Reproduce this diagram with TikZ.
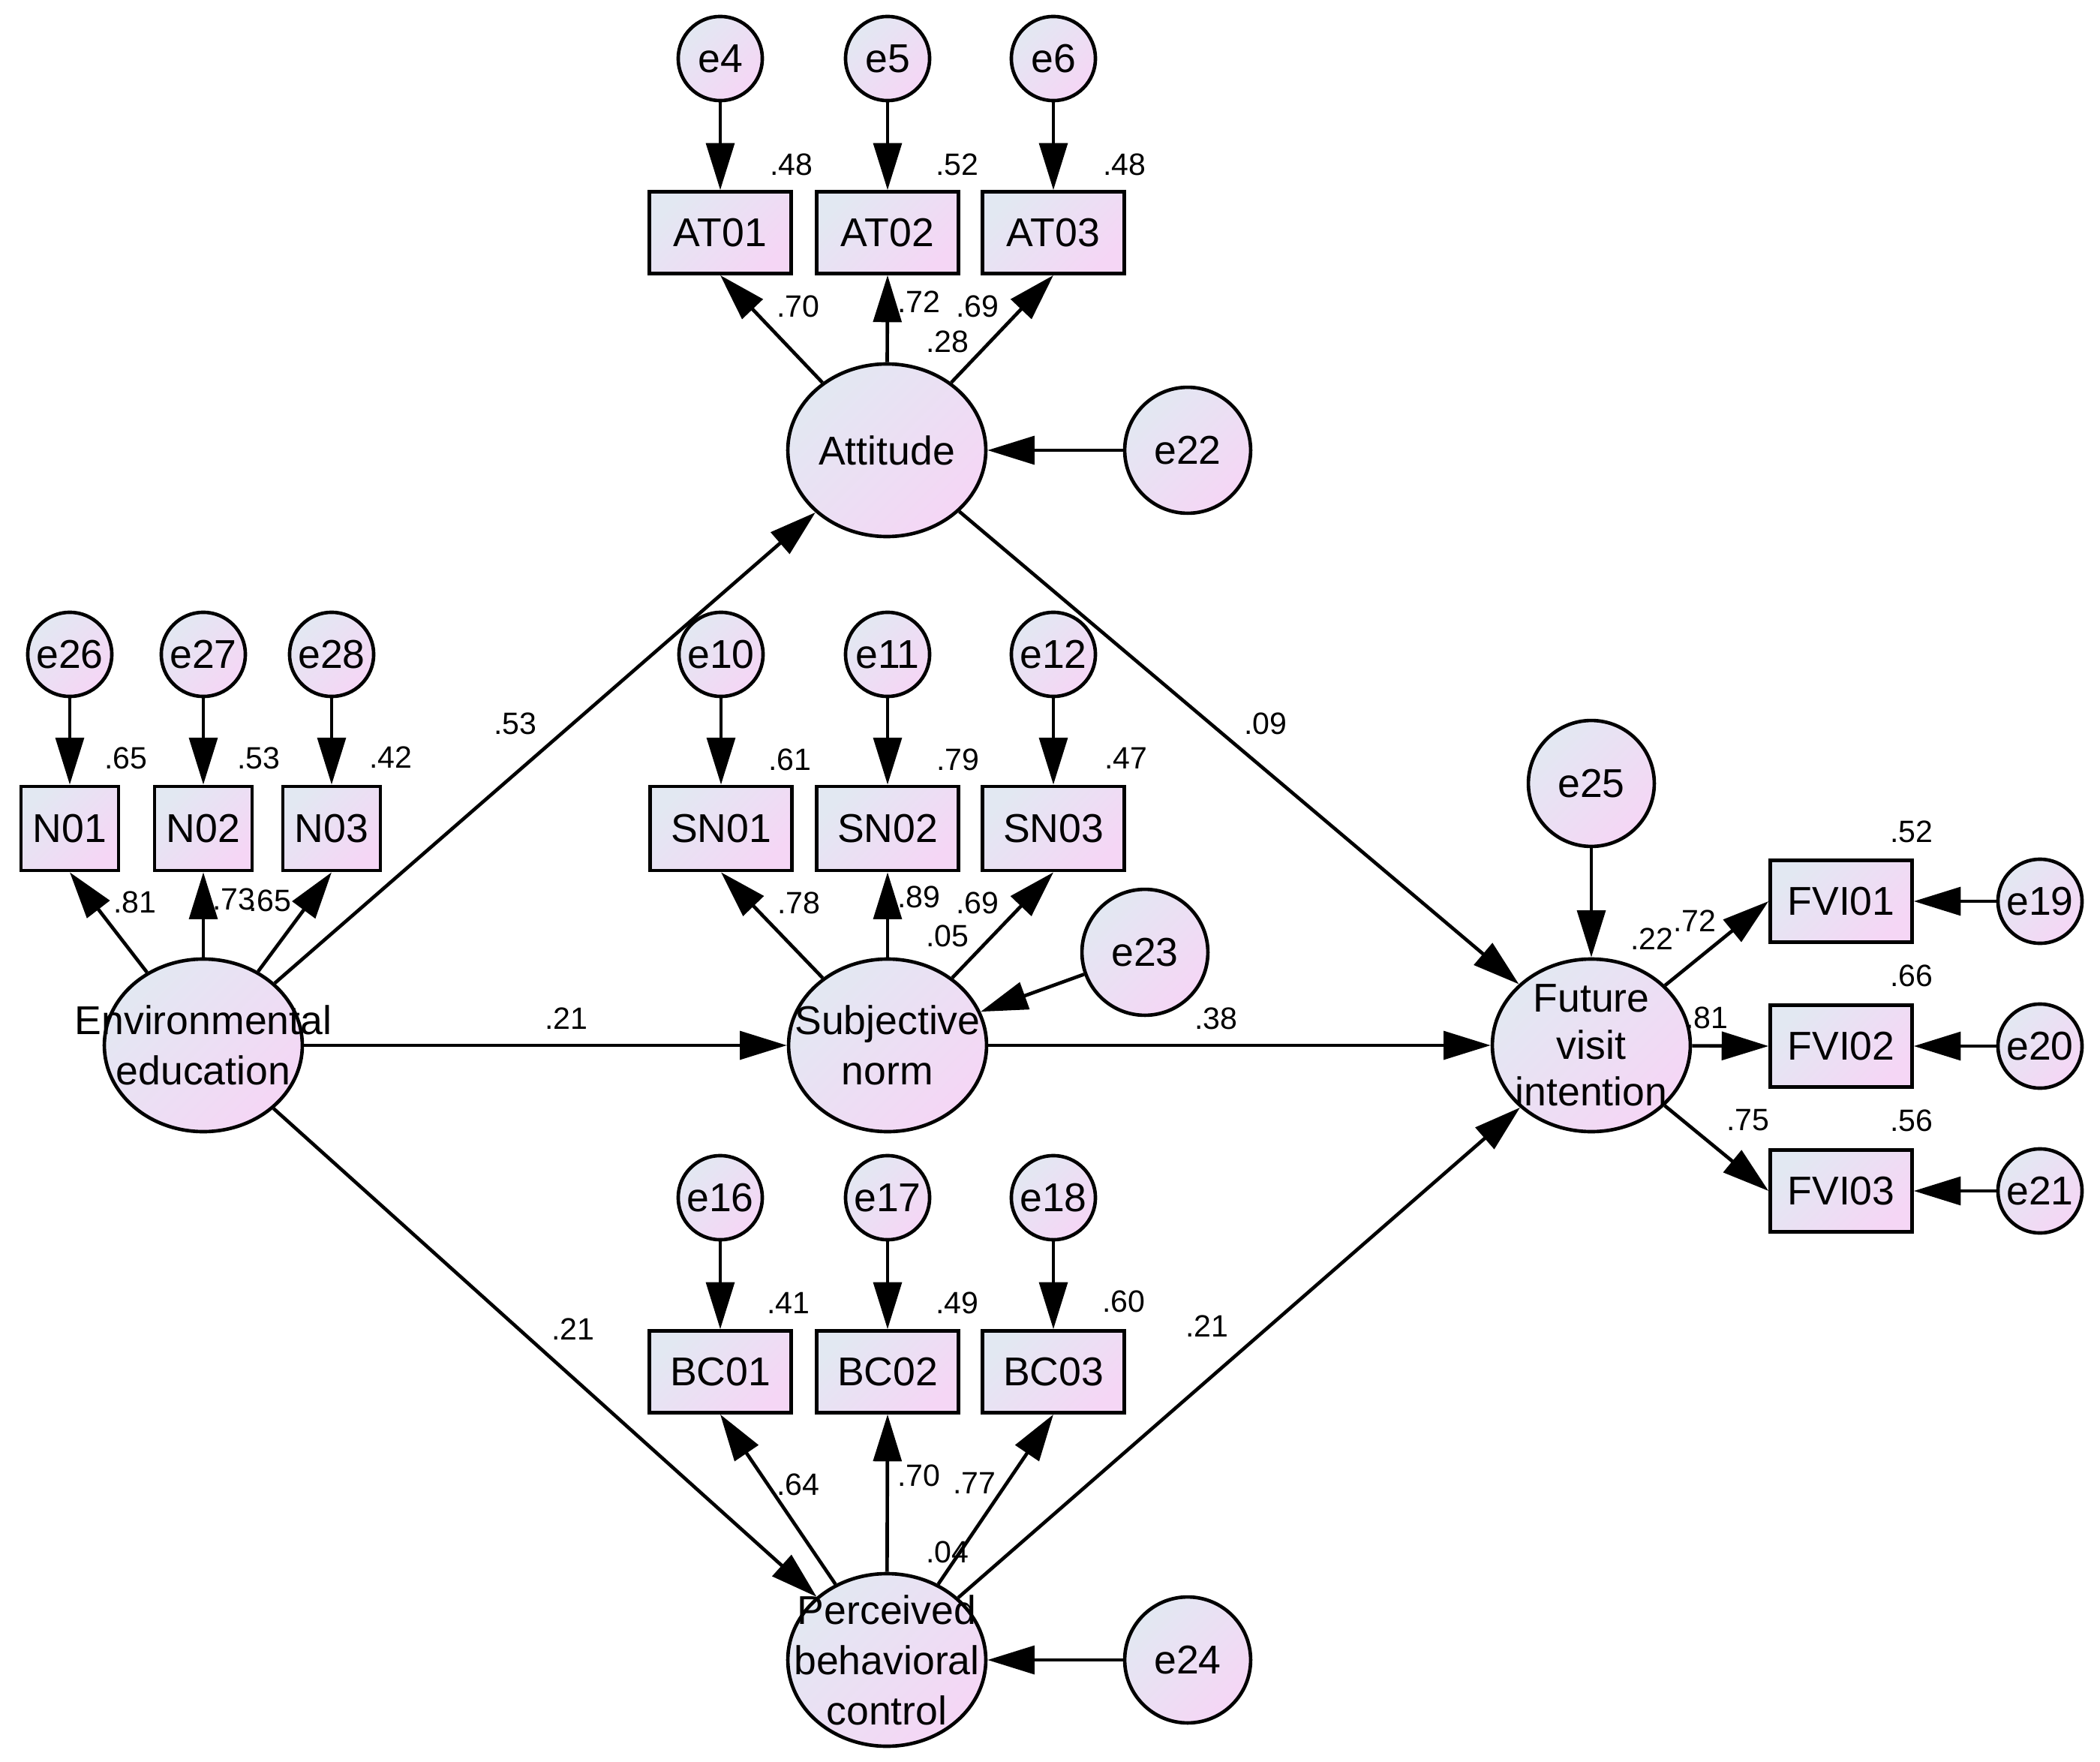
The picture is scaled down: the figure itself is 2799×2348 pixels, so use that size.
\documentclass[tikz,border=0pt]{standalone}
\usepackage{fontspec}
\setmainfont{Liberation Sans}
\usetikzlibrary{arrows.meta,shapes.geometric}
\definecolor{gL}{RGB}{226,232,242}
\definecolor{gR}{RGB}{245,214,245}
\begin{document}
\begin{tikzpicture}[x=0.28pt,y=-0.28pt,
  every node/.style={font=\fontsize{15}{18}\selectfont},
  shd/.style={left color=gL,right color=gR,shading angle=45,draw=black,line width=1.3pt},
  errs/.style={shd,circle,minimum size=31.4pt,inner sep=0pt},
  errb/.style={shd,circle,minimum size=47pt,inner sep=0pt},
  obs/.style={shd,rectangle,minimum width=52.9pt,minimum height=30.5pt,inner sep=0pt},
  obsn/.style={obs,minimum width=36.4pt,minimum height=31.4pt},
  lat/.style={shd,ellipse,minimum width=73.9pt,minimum height=64.4pt,inner sep=0pt},
  arr/.style={line width=1.3pt,-{Triangle[length=17.5pt,width=10.5pt]}},
  lbl/.style={font=\fontsize{11.5}{13}\selectfont,inner sep=0pt},
  ltxt/.style={align=center,font=\fontsize{15}{18.8}\selectfont,inner sep=0pt}]
\useasboundingbox (0,0) rectangle (2799,2348);

% ---------- latent variables ----------
\node[lat] (att) at (1182,600) {};
\node[lat] (env) at (271,1393) {};
\node[lat] (sn)  at (1183,1393) {};
\node[lat] (pbc) at (1182,2212) {};
\node[lat] (fvi) at (2121,1393) {};

% ---------- attitude block ----------
\node[errs] (e4) at (960,78) {e4};
\node[errs] (e5) at (1183,78) {e5};
\node[errs] (e6) at (1404,78) {e6};
\node[obs] (at1) at (960,310) {AT01};
\node[obs] (at2) at (1183,310) {AT02};
\node[obs] (at3) at (1404,310) {AT03};
\node[errb] (e22) at (1583,600) {e22};

% ---------- environmental education block ----------
\node[errs] (e26) at (93,872) {e26};
\node[errs] (e27) at (271,872) {e27};
\node[errs] (e28) at (442,872) {e28};
\node[obsn] (n1) at (93,1104) {N01};
\node[obsn] (n2) at (271,1104) {N02};
\node[obsn] (n3) at (442,1104) {N03};

% ---------- subjective norm block ----------
\node[errs] (e10) at (961,872) {e10};
\node[errs] (e11) at (1183,872) {e11};
\node[errs] (e12) at (1404,872) {e12};
\node[obs,minimum height=31.4pt] (sn1) at (961,1104) {SN01};
\node[obs,minimum height=31.4pt] (sn2) at (1183,1104) {SN02};
\node[obs,minimum height=31.4pt] (sn3) at (1404,1104) {SN03};
\node[errb] (e23) at (1526,1269) {e23};

% ---------- PBC block ----------
\node[errs] (e16) at (960,1596) {e16};
\node[errs] (e17) at (1183,1596) {e17};
\node[errs] (e18) at (1404,1596) {e18};
\node[obs] (bc1) at (960,1828) {BC01};
\node[obs] (bc2) at (1183,1828) {BC02};
\node[obs] (bc3) at (1404,1828) {BC03};
\node[errb] (e24) at (1583,2212) {e24};

% ---------- FVI block ----------
\node[errb] (e25) at (2121,1044) {e25};
\node[obs] (f1) at (2454,1201) {FVI01};
\node[obs] (f2) at (2454,1394) {FVI02};
\node[obs] (f3) at (2454,1587) {FVI03};
\node[errs] (e19) at (2719,1201) {e19};
\node[errs] (e20) at (2719,1394) {e20};
\node[errs] (e21) at (2719,1587) {e21};

% ---------- connectors ----------
\foreach \a/\b in {e4/at1,e5/at2,e6/at3,e26/n1,e27/n2,e28/n3,e10/sn1,e11/sn2,e12/sn3,e16/bc1,e17/bc2,e18/bc3,e22/att,e23/sn,e24/pbc,e25/fvi,e19/f1,e20/f2,e21/f3,env/att,env/sn,env/pbc,att/fvi,sn/fvi,pbc/fvi}
  \draw[arr] (\a) -- (\b);
\foreach \a/\b in {att/at1,att/at2,att/at3,env/n1,env/n2,env/n3,sn/sn1,sn/sn2,sn/sn3,pbc/bc1,pbc/bc2,pbc/bc3}
  \draw[arr] (\a) -- (\b.south);
\foreach \b in {f1,f2,f3}
  \draw[arr] (fvi) -- (\b.west);

% ---------- latent texts ----------
\node[ltxt] (envt) at (env) {Environmental\\education};
\node[ltxt] (attt) at (att) {Attitude};
\node[ltxt] (snt) at (sn) {Subjective\\norm};
\node[ltxt] (pbct) at (pbc) {Perceived\\behavioral\\control};
\node[ltxt,font=\fontsize{15}{17.5}\selectfont] (fvit) at (fvi) {Future\\visit\\intention};

% ---------- labels ----------
\node[lbl] (l1) at (1055,219) {.48};
\node[lbl] (l2) at (1276,219) {.52};
\node[lbl] (l3) at (1499,219) {.48};
\node[lbl] (l4) at (1064,408) {.70};
\node[lbl] (l5) at (1225,402) {.72};
\node[lbl] (l6) at (1303,408) {.69};
\node[lbl] (l7) at (1263,455) {.28};

\node[lbl] (l8) at (168,1010) {.65};
\node[lbl] (l9) at (345,1010) {.53};
\node[lbl] (l10) at (521,1009) {.42};
\node[lbl] (l11) at (180,1202) {.81};
\node[lbl] (l12) at (312,1198) {.73};
\node[lbl] (l13) at (360,1200) {.65};

\node[lbl] (l14) at (687,964) {.53};
\node[lbl] (l15) at (755,1357) {.21};
\node[lbl] (l16) at (764,1771) {.21};

\node[lbl] (l17) at (1053,1012) {.61};
\node[lbl] (l18) at (1277,1012) {.79};
\node[lbl] (l19) at (1501,1010) {.47};
\node[lbl] (l20) at (1065,1203) {.78};
\node[lbl] (l21) at (1225,1195) {.89};
\node[lbl] (l22) at (1303,1203) {.69};
\node[lbl] (l23) at (1263,1247) {.05};

\node[lbl] (l24) at (1687,964) {.09};
\node[lbl] (l25) at (1621,1357) {.38};
\node[lbl] (l26) at (1609,1767) {.21};

\node[lbl] (l27) at (2548,1108) {.52};
\node[lbl] (l28) at (2548,1300) {.66};
\node[lbl] (l29) at (2548,1493) {.56};
\node[lbl] (l30) at (2202,1251) {.22};
\node[lbl] (l31) at (2259,1227) {.72};
\node[lbl] (l32) at (2275,1356) {.81};
\node[lbl] (l33) at (2330,1493) {.75};

\node[lbl] (l34) at (1051,1736) {.41};
\node[lbl] (l35) at (1276,1736) {.49};
\node[lbl] (l36) at (1498,1734) {.60};
\node[lbl] (l37) at (1064,1978) {.64};
\node[lbl] (l38) at (1225,1966) {.70};
\node[lbl] (l39) at (1299,1976) {.77};
\node[lbl] (l40) at (1263,2068) {.04};
\end{tikzpicture}
\end{document}
